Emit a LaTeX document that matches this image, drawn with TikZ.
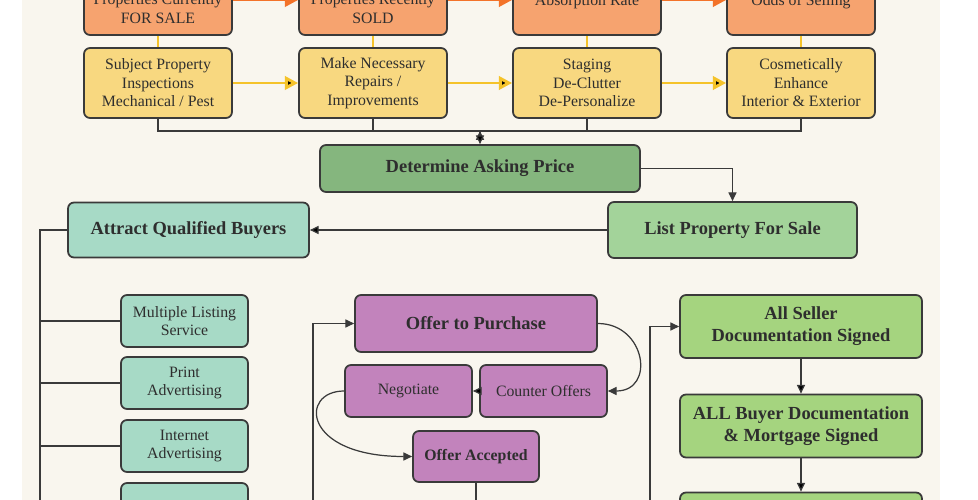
\documentclass[tikz,border=0pt]{standalone}
\usepackage{fontspec}
\setmainfont{Liberation Serif}
\usetikzlibrary{arrows.meta,positioning}
\definecolor{panel}{HTML}{F9F6EE}
\definecolor{boxline}{HTML}{3A3A3A}
\definecolor{ink}{HTML}{2E2E2E}
\definecolor{orangefill}{HTML}{F6A36F}
\definecolor{orangeline}{HTML}{F37329}
\definecolor{yellowfill}{HTML}{F8D880}
\definecolor{yellowline}{HTML}{F5C32A}
\definecolor{pricefill}{HTML}{85B67E}
\definecolor{listfill}{HTML}{A3D39A}
\definecolor{tealfill}{HTML}{A7DAC6}
\definecolor{plumfill}{HTML}{C283BC}
\definecolor{closefill}{HTML}{A5D47F}
\tikzset{
  flowbox/.style={rectangle,rounded corners=0.12cm,draw=boxline,line width=1pt,inner sep=1pt,
    align=center,text=ink,font=\fontsize{9}{10.5}\selectfont},
  boldbox/.style={flowbox,font=\fontsize{10.5}{12.6}\selectfont\bfseries},
  salebox/.style={flowbox,fill=orangefill,minimum width=2.96cm},
  prepbox/.style={flowbox,fill=yellowfill,minimum width=2.96cm,minimum height=1.4cm},
  pricebox/.style={boldbox,fill=pricefill,minimum width=6.4cm,minimum height=0.94cm},
  listbox/.style={boldbox,fill=listfill,minimum width=4.98cm,minimum height=1.12cm},
  buyerbox/.style={boldbox,fill=tealfill,minimum width=4.82cm,minimum height=1.1cm},
  adbox/.style={flowbox,fill=tealfill,minimum width=2.54cm,minimum height=1.04cm},
  offerbox/.style={boldbox,fill=plumfill,minimum width=4.84cm,minimum height=1.14cm},
  dealbox/.style={flowbox,fill=plumfill,minimum width=2.54cm,minimum height=1.04cm},
  acceptbox/.style={dealbox,font=\fontsize{9}{10.5}\selectfont\bfseries,minimum width=2.52cm,minimum height=1.02cm},
  closebox/.style={boldbox,fill=closefill,minimum width=4.84cm,minimum height=1.26cm},
  wire/.style={draw=boxline,line width=0.7pt},
  orangeflow/.style={draw=orangeline,line width=1.7pt},
  yellowflow/.style={draw=yellowline,line width=1.7pt},
  bigtip/.style={-{Triangle[length=7.5pt,width=7.5pt]}}
}
\begin{document}
\begin{tikzpicture}[x=0.02cm,y=-0.02cm,>={Triangle[length=5pt,width=4.6pt]},font=\small]
  \path[use as bounding box,clip] (0,0) rectangle (978,500);
  \fill[panel] (22,-5) rectangle (940,505);
  % research row runs off the top edge, so only its lower part shows
  \node[salebox,minimum height=1.06cm] (current) at (158,8.5) {Properties Currently\\FOR SALE};
  \node[salebox,minimum height=1.06cm] (sold) at (373,8.5) {Properties Recently\\SOLD};
  \node[salebox,minimum height=1.32cm] (absorb) at (587,2) {Absorption Rate};
  \node[salebox,minimum height=1.32cm] (odds) at (801,2) {Odds of Selling};
  \node[prepbox] (inspect) at (158,83) {Subject Property\\Inspections\\Mechanical / Pest};
  \node[prepbox] (repair) at (373,83) {Make Necessary\\Repairs /\\Improvements};
  \node[prepbox] (stage) at (587,83) {Staging\\De-Clutter\\De-Personalize};
  \node[prepbox] (enhance) at (801,83) {Cosmetically\\Enhance\\Interior \& Exterior};
  \node[pricebox] (price) at (480,168.5) {Determine Asking Price};
  \node[listbox] (list) at (732.5,230) {List Property For Sale};
  \node[buyerbox] (attract) at (188.5,230) {Attract Qualified Buyers};
  \node[adbox] (mls) at (184.5,321) {Multiple Listing\\Service};
  \node[adbox] (print) at (184.5,383) {Print\\Advertising};
  \node[adbox] (web) at (184.5,446) {Internet\\Advertising};
  \node[adbox] (more) at (184.5,509) {};
  \node[offerbox] (offer) at (476,323.5) {Offer to Purchase};
  \node[dealbox] (negotiate) at (408.5,391) {Negotiate};
  \node[dealbox] (counter) at (543.5,391) {Counter Offers};
  \node[acceptbox] (accepted) at (476,456.5) {Offer Accepted};
  \node[closebox] (seller) at (801,326.5) {All Seller\\Documentation Signed};
  \node[closebox] (buyer) at (801,426) {ALL Buyer Documentation\\\& Mortgage Signed};
  \node[closebox] (next) at (801,524) {};
  \coordinate (bus) at (480,131);
  \coordinate (adtop) at (40,230);
  \coordinate (adend) at (40,510);
  \coordinate (offerend) at (313,510);
  \coordinate (acceptend) at (476,510);
  \coordinate (closeend) at (650,510);
  \foreach \a/\b in {current/sold,sold/absorb,absorb/odds}
    \draw[orangeflow,bigtip] (\a.east |- 0,0) -- (\b.west |- 0,0);
  \foreach \a/\b in {current/inspect,sold/repair,absorb/stage,odds/enhance}
    \draw[yellowflow] (\a) -- (\b);
  \path[yellowflow,bigtip]
    (inspect) edge (repair)
    (repair) edge (stage)
    (stage) edge (enhance);
  \draw[wire] (inspect) |- (bus) -| (enhance);
  \draw[wire] (repair) -- (repair |- bus);
  \draw[wire] (stage) -- (stage |- bus);
  \draw[wire,->] (price) -| (list);
  \draw[wire] (attract) -- (adtop) -- (adend);
  \foreach \n in {mls,print,web,more}
    \draw[wire] (\n) -- (\n -| adtop);
  \draw[wire,->] (offerend) |- (offer);
  \draw[wire,->] (offer.east) to[out=0,in=0,looseness=1.8] (counter.east);
  \draw[wire,->] (negotiate.west) .. controls +(-45,0) and +(-110,0) .. (accepted.west);
  \draw[wire] (accepted) -- (acceptend);
  \draw[wire,->] (closeend) |- (seller);
  \path[wire,->]
    (bus) edge (price)
    (list) edge (attract)
    (counter) edge (negotiate)
    (seller) edge (buyer)
    (buyer) edge (next);
\end{tikzpicture}
\end{document}
